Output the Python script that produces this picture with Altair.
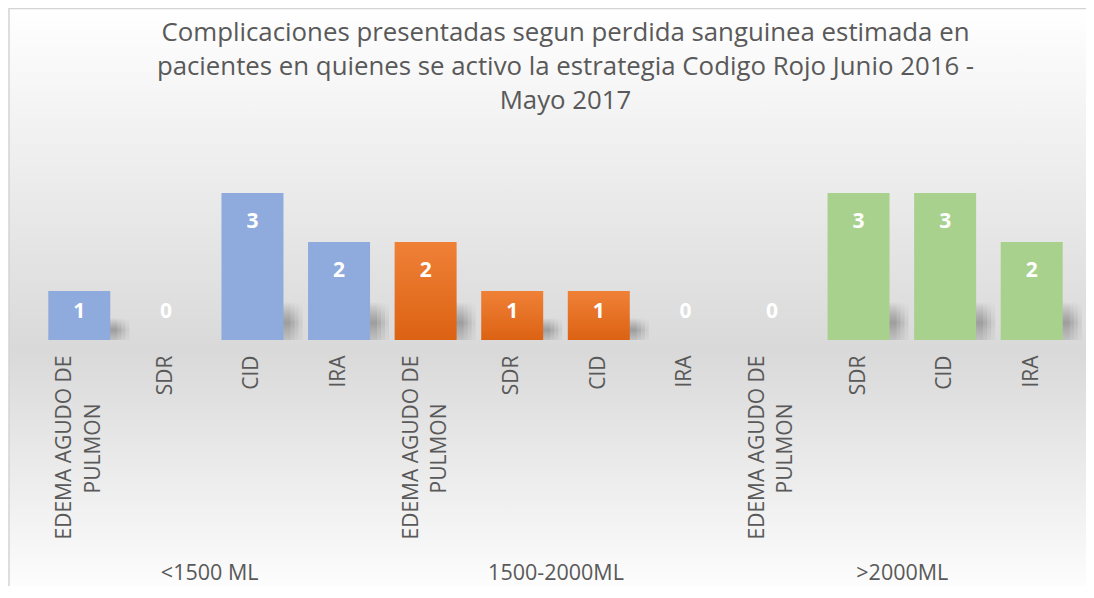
import altair as alt
import pandas as pd

# ---- data -------------------------------------------------------------
groups = ["<1500 ML", "1500-2000ML", ">2000ML"]
categories = ["EDEMA AGUDO DE PULMON", "SDR", "CID", "IRA"]
values_lt1500 = [1, 0, 3, 2]
values_1500_2000 = [2, 1, 1, 0]
values_gt2000 = [0, 3, 3, 2]

title_lines = [
    "Complicaciones  presentadas segun perdida sanguinea estimada en",
    "pacientes en quienes se activo la estrategia Codigo Rojo Junio 2016 -",
    "Mayo 2017",
]

rows = []
for g, vals in zip(groups, [values_lt1500, values_1500_2000, values_gt2000]):
    for c, v in zip(categories, vals):
        rows.append({"key": g + "|" + c, "group": g, "category": c, "value": v})
df = pd.DataFrame(rows)
keys = list(df["key"])
gdf = pd.DataFrame({"group": groups})

# ---- style ------------------------------------------------------------
W, H = 1039, 196
TXT = "#595959"
FONT = "Open Sans"
BLUE = "#8FAADC"
GREEN = "#A9D18E"
ORANGE_GRAD = alt.LinearGradient(
    gradient="linear", x1=0, x2=0, y1=0, y2=1,
    stops=[alt.GradientStop(color="#EF8137", offset=0),
           alt.GradientStop(color="#DC6213", offset=1)],
)
BG_GRAD = alt.LinearGradient(
    gradient="linear", x1=0, x2=0, y1=0, y2=1,
    stops=[alt.GradientStop(color="#ffffff", offset=0),
           alt.GradientStop(color="#ececec", offset=0.28),
           alt.GradientStop(color="#d9d9d9", offset=0.56),
           alt.GradientStop(color="#ffffff", offset=0.97)],
)


def shadow_grad(a):
    return alt.LinearGradient(
        gradient="linear", x1=0, x2=0, y1=0, y2=1,
        stops=[alt.GradientStop(color="rgba(100,100,100,0)", offset=0),
               alt.GradientStop(color=f"rgba(100,100,100,{a})", offset=0.55),
               alt.GradientStop(color=f"rgba(130,130,130,{a * 0.5})", offset=1)],
    )


IS_EDEMA = "indexof(datum.value, 'EDEMA') >= 0"

X_MAIN = alt.X(
    "key:N",
    sort=keys,
    scale=alt.Scale(domain=keys, paddingInner=0, paddingOuter=0),
    axis=alt.Axis(
        orient="bottom", title=None, domain=False, ticks=False, grid=False,
        labelExpr="split(datum.value, '|')[1] == 'EDEMA AGUDO DE PULMON' ? "
                  "'EDEMA AGUDO DE' : split(datum.value, '|')[1]",
        labelAngle=270, labelAlign="right", labelBaseline="middle",
        labelPadding=15, labelFont=FONT, labelFontSize=21, labelColor=TXT,
        labelOffset={"condition": {"test": IS_EDEMA, "value": -14}, "value": 0},
        labelLimit=400, labelOverlap=False, zindex=1,
    ),
)
X_SECOND = alt.X(
    "key:N",
    sort=keys,
    scale=alt.Scale(domain=keys, paddingInner=0, paddingOuter=0),
    axis=alt.Axis(
        orient="bottom", title=None, domain=False, ticks=False, grid=False,
        labelExpr="split(datum.value, '|')[1] == 'EDEMA AGUDO DE PULMON' ? "
                  "'PULMON' : ''",
        labelAngle=270, labelAlign="right", labelBaseline="middle",
        labelPadding=63, labelFont=FONT, labelFontSize=21, labelColor=TXT,
        labelOffset=14, labelLimit=400, labelOverlap=False, zindex=1,
    ),
)
YS = alt.Scale(domain=[0, 4])
Y = alt.Y("value:Q", scale=YS, axis=None)
BW = alt.RelativeBandSize(0.716)

base = alt.Chart(df)

background = alt.Chart(pd.DataFrame({"k": [0]})).mark_rect(
    fill=BG_GRAD, stroke="#d4d4d4", strokeWidth=1.5
).encode(
    x=alt.value(-27), x2=alt.value(W + 60),
    y=alt.value(-135.5), y2=alt.value(H + 280),
)


def shadow(off, a):
    return base.transform_filter("datum.value > 0").transform_calculate(
        sh="min(datum.value * 0.45, 0.78)"
    ).mark_bar(width=BW, xOffset=off, fill=shadow_grad(a)).encode(
        x=X_MAIN, y=alt.Y("sh:Q", scale=YS, axis=None)
    )


def bars(g, fill):
    return base.transform_filter(alt.datum.group == g).mark_bar(
        width=BW, fill=fill
    ).encode(x=X_MAIN, y=Y)


labels = base.transform_calculate(
    ly="max(datum.value - 0.6, 0.57)"
).mark_text(
    font=FONT, fontSize=21, fontWeight="bold", color="white", baseline="middle"
).encode(x=X_MAIN, y=alt.Y("ly:Q", scale=YS, axis=None), text="value:Q")

inner = alt.layer(
    background,
    shadow(19, 0.13), shadow(15, 0.16), shadow(11, 0.18), shadow(7, 0.2),
    bars(groups[0], BLUE), bars(groups[1], ORANGE_GRAD), bars(groups[2], GREEN),
    labels,
)

second_line = base.mark_point(opacity=0).encode(x=X_SECOND, y=alt.value(0))

group_axis = alt.Chart(gdf).mark_point(opacity=0).encode(
    x=alt.X(
        "group:N", sort=groups,
        scale=alt.Scale(domain=groups, paddingInner=0, paddingOuter=0),
        axis=alt.Axis(
            orient="bottom", title=None, domain=False, ticks=False, grid=False,
            labelAngle=0, labelFont=FONT, labelFontSize=21.5, labelColor=TXT,
            labelPadding=0, offset=222, zindex=1,
        ),
    ),
    y=alt.value(0),
)

chart = alt.layer(inner, second_line, group_axis).resolve_scale(
    x="independent"
).properties(
    width=W, height=H,
    autosize="none",
    padding={"left": 28, "top": 136, "right": 11, "bottom": 246},
    title=alt.TitleParams(
        text=title_lines, font=FONT, fontSize=25.8, fontWeight="normal",
        color=TXT, anchor="middle", frame="group", lineHeight=34,
        baseline="bottom", offset=-132, dx=10, zindex=1,
    ),
).configure_view(stroke=None).configure(background="white")

chart.save("out.html", embed_options={"renderer": "svg", "actions": False})
